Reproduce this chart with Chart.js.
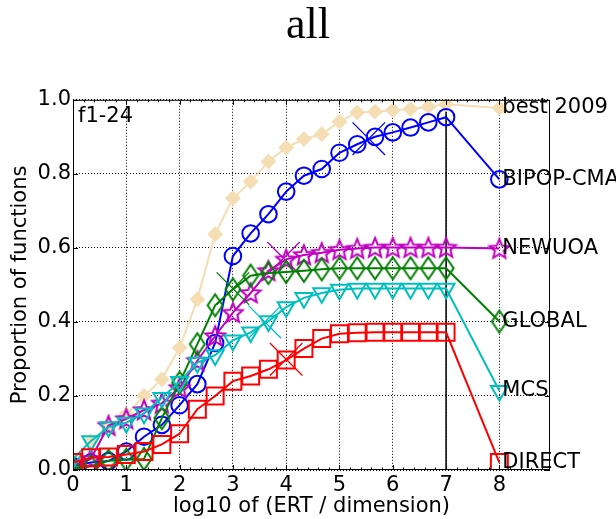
<!DOCTYPE html>
<html>
<head>
<meta charset="utf-8">
<script src="https://cdn.jsdelivr.net/npm/chart.js@4.4.1/dist/chart.umd.min.js"></script>
<style>
  html, body { margin: 0; padding: 0; background: #fff; }
</style>
</head>
<body>
<canvas id="ecdf" width="616" height="519"></canvas>
<script>
// ECDF of run lengths over all functions f1-24, markers every 1/3 decade
const xTicks = [0, 1, 2, 3, 4, 5, 6, 7, 8];
const yTicks = [0, 0.2, 0.4, 0.6, 0.8, 1.0];
const xMarks = [0, 0.333, 0.667, 1, 1.333, 1.667, 2, 2.333, 2.667, 3, 3.333,
                3.667, 4, 4.333, 4.667, 5, 5.333, 5.667, 6, 6.333, 6.667, 7];
const xEnd = 8;        // end points + algorithm names
const xMaxEvals = 7;   // solid vertical line

const seriesNames = ["best 2009", "BIPOP-CMA", "NEWUOA", "GLOBAL", "MCS", "DIRECT"];

const best2009 = [0.03, 0.078, 0.12, 0.15, 0.2, 0.245, 0.33, 0.461, 0.637, 0.734, 0.779,
                  0.833, 0.871, 0.894, 0.907, 0.941, 0.966, 0.968, 0.972, 0.975, 0.981, 0.988];
const bipopCma = [0.01, 0.02, 0.024, 0.05, 0.09, 0.122, 0.175, 0.232, 0.343, 0.578, 0.639,
                  0.691, 0.752, 0.795, 0.813, 0.857, 0.88, 0.9, 0.912, 0.925, 0.939, 0.953];
const newuoa = [0.01, 0.03, 0.12, 0.138, 0.162, 0.18, 0.222, 0.295, 0.362, 0.425, 0.478,
                0.538, 0.569, 0.581, 0.587, 0.595, 0.598, 0.601, 0.601, 0.601, 0.601, 0.601];
const global = [0.005, 0.01, 0.025, 0.028, 0.03, 0.14, 0.236, 0.34, 0.445, 0.488, 0.525,
                0.532, 0.535, 0.538, 0.542, 0.545, 0.545, 0.545, 0.545, 0.545, 0.545, 0.545];
const mcs = [0.03, 0.078, 0.116, 0.128, 0.153, 0.195, 0.238, 0.29, 0.31, 0.35, 0.372,
             0.402, 0.44, 0.465, 0.478, 0.487, 0.49, 0.49, 0.49, 0.49, 0.49, 0.49];
const direct = [0.02, 0.033, 0.035, 0.042, 0.05, 0.069, 0.098, 0.164, 0.2, 0.24, 0.254,
                0.272, 0.297, 0.328, 0.355, 0.368, 0.371, 0.372, 0.372, 0.372, 0.372, 0.372];
const finalValues = [0.978, 0.785, 0.598, 0.401, 0.214, 0.02];

// median of max evaluations per algorithm (big thin x)
const crossX = [null, 5.55, 3.95, 3.0, 3.6, 4.0];
const crossY = [null, 0.895, 0.572, 0.49, 0.40, 0.299];

const allSeries = [best2009, bipopCma, newuoa, global, mcs, direct];

// open five-pointed star
function starMarker(color) {
  const c = document.createElement("canvas");
  c.width = c.height = 26;
  const g = c.getContext("2d");
  g.beginPath();
  for (let i = 0; i < 10; i++) {
    const r = i % 2 ? 4.6 : 10.3;
    const a = -Math.PI / 2 + i * Math.PI / 5;
    g.lineTo(13 + r * Math.cos(a), 13.8 + r * Math.sin(a));
  }
  g.closePath();
  g.strokeStyle = color;
  g.lineWidth = 2;
  g.stroke();
  return c;
}

// open thin (tall) diamond
function thinDiamond(color) {
  const c = document.createElement("canvas");
  c.width = 22;
  c.height = 28;
  const g = c.getContext("2d");
  g.beginPath();
  g.moveTo(11, 3);
  g.lineTo(18.5, 14);
  g.lineTo(11, 25);
  g.lineTo(3.5, 14);
  g.closePath();
  g.strokeStyle = color;
  g.lineWidth = 2;
  g.stroke();
  return c;
}

const styles = [
  { color: "#f5deb3", style: "rectRot", radius: 6.5, fill: "#f5deb3", width: 2 },
  { color: "#0000ff", style: "circle", radius: 8.3, fill: "transparent", width: 2 },
  { color: "#bf00bf", style: starMarker("#bf00bf"), radius: 10, fill: "transparent", width: 2 },
  { color: "#008000", style: thinDiamond("#008000"), radius: 10, fill: "transparent", width: 2 },
  { color: "#00bfbf", style: "triangle", rotation: 180, radius: 9.8, fill: "transparent", width: 2 },
  { color: "#ff0000", style: "rect", radius: 12, fill: "transparent", width: 2 }
];

const datasets = [];
allSeries.forEach((vals, i) => {
  const s = styles[i];
  datasets.push({
    label: seriesNames[i],
    data: xMarks.map((x, k) => ({ x: x, y: vals[k] })).concat([{ x: xEnd, y: finalValues[i] }]),
    showLine: true,
    borderColor: s.color,
    borderWidth: s.width,
    pointStyle: s.style,
    rotation: s.rotation || 0,
    pointRadius: s.radius,
    pointBorderWidth: 2,
    pointBorderColor: s.color,
    pointBackgroundColor: s.fill,
    tension: 0,
    clip: 0,
    order: i === 0 ? 20 : 10 - i
  });
  if (crossX[i] !== null) {
    datasets.push({
      label: seriesNames[i] + " max evals",
      data: [{ x: crossX[i], y: crossY[i] }],
      showLine: false,
      pointStyle: "crossRot",
      pointRadius: 23,
      pointBorderWidth: 1.3,
      pointBorderColor: s.color,
      clip: 0,
      order: 10 - i
    });
  }
});

const font = "DejaVu Sans";

const frameAndLabels = {
  id: "frameAndLabels",
  beforeDatasetsDraw(chart) {
    const { ctx, chartArea: a, scales: { x } } = chart;
    const px = x.getPixelForValue(xMaxEvals);
    ctx.save();
    ctx.strokeStyle = "#000";
    ctx.lineWidth = 1.5;
    ctx.beginPath();
    ctx.moveTo(px, a.top);
    ctx.lineTo(px, a.bottom);
    ctx.stroke();
    ctx.restore();
  },
  afterDatasetsDraw(chart) {
    const { ctx, chartArea: a, scales: { x, y } } = chart;
    ctx.save();
    ctx.strokeStyle = "#000";
    ctx.lineWidth = 1;
    ctx.strokeRect(a.left + 0.5, a.top + 0.5, a.right - a.left - 1, a.bottom - a.top - 1);

    // inward ticks, majors on x and y, minors every 0.2 on x
    ctx.beginPath();
    xTicks.forEach(v => {
      const p = Math.round(x.getPixelForValue(v)) + 0.5;
      ctx.moveTo(p, a.bottom); ctx.lineTo(p, a.bottom - 5);
      ctx.moveTo(p, a.top); ctx.lineTo(p, a.top + 5);
    });
    for (let v = 0.2; v < x.max; v += 0.2) {
      const p = Math.round(x.getPixelForValue(v)) + 0.5;
      ctx.moveTo(p, a.bottom); ctx.lineTo(p, a.bottom - 2.5);
      ctx.moveTo(p, a.top); ctx.lineTo(p, a.top + 2.5);
    }
    yTicks.forEach(v => {
      const p = Math.round(y.getPixelForValue(v)) + 0.5;
      ctx.moveTo(a.left, p); ctx.lineTo(a.left + 5, p);
      ctx.moveTo(a.right, p); ctx.lineTo(a.right - 5, p);
    });
    ctx.stroke();

    ctx.fillStyle = "#000";
    ctx.font = "21px '" + font + "'";
    ctx.textBaseline = "middle";
    ctx.textAlign = "left";
    ctx.fillText("f1-24", a.left + 5, a.top + 17);

    const lx = x.getPixelForValue(xEnd) + 3;
    seriesNames.forEach((name, i) => {
      ctx.fillText(name, lx, y.getPixelForValue(finalValues[i]));
    });
    ctx.restore();
  }
};

new Chart(document.getElementById("ecdf"), {
  type: "scatter",
  data: { datasets: datasets },
  options: {
    responsive: false,
    animation: false,
    events: [],
    layout: { padding: 0 },
    plugins: {
      legend: { display: false },
      tooltip: { enabled: false },
      title: {
        display: true,
        text: "all",
        color: "#000",
        font: { family: "'Liberation Serif', serif", size: 44, weight: "normal", lineHeight: 1.2 },
        padding: { top: 0, bottom: 47 }
      }
    },
    scales: {
      x: {
        type: "linear",
        min: 0,
        max: 8.95,
        afterBuildTicks: s => { s.ticks = xTicks.map(v => ({ value: v })); },
        afterFit: s => { s.height = 49; },
        ticks: { color: "#000", padding: 3, font: { family: font, size: 21 }, callback: v => String(v) },
        grid: { color: "#000", lineWidth: 1, drawTicks: false },
        border: { display: false, dash: [1, 2] },
        title: {
          display: true,
          text: "log10 of (ERT / dimension)",
          color: "#000",
          font: { family: font, size: 21 },
          padding: { top: 3, bottom: 0 }
        }
      },
      y: {
        type: "linear",
        min: 0,
        max: 1,
        afterBuildTicks: s => { s.ticks = yTicks.map(v => ({ value: v })); },
        afterFit: s => { s.width = 73; },
        ticks: { color: "#000", padding: 2, font: { family: font, size: 21 }, callback: v => v.toFixed(1) },
        grid: { color: "#000", lineWidth: 1, drawTicks: false },
        border: { display: false, dash: [1, 2] },
        title: {
          display: true,
          text: "Proportion of functions",
          color: "#000",
          font: { family: font, size: 21 },
          padding: { top: 8, bottom: 0 }
        }
      },
      // empty right-hand box that leaves room for the algorithm names
      yNames: {
        type: "linear",
        position: "right",
        afterFit: s => { s.width = 66; },
        ticks: { display: false },
        grid: { display: false },
        border: { display: false }
      }
    }
  },
  plugins: [frameAndLabels]
});
</script>
</body>
</html>
